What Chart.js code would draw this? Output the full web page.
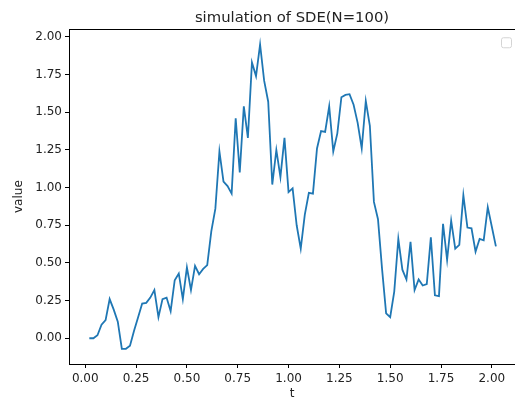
<!DOCTYPE html>
<html>
<head>
<meta charset="utf-8">
<script src="https://cdn.jsdelivr.net/npm/chart.js@4.4.1/dist/chart.umd.min.js"></script>
<style>
  html, body { margin: 0; padding: 0; background: #fff; overflow: hidden; }
</style>
</head>
<body>
<canvas id="sdeChart" width="515" height="401"></canvas>
<script>
/* Simulated path of the SDE, one value per step (N = 100, dt = 0.02) */
const pathValues = [
    0.00, 0.00, 0.02, 0.09, 0.12, 0.26, 0.19, 0.11, -0.07, -0.07,
    -0.05, 0.05, 0.14, 0.23, 0.235, 0.27, 0.32, 0.14, 0.26, 0.27,
    0.18, 0.385, 0.43, 0.26, 0.47, 0.32, 0.48, 0.425, 0.46, 0.485,
    0.71, 0.86, 1.24, 1.04, 1.01, 0.96, 1.46, 1.10, 1.54, 1.33,
    1.83, 1.74, 1.95, 1.71, 1.57, 1.02, 1.25, 1.07, 1.33, 0.97,
    0.995, 0.75, 0.595, 0.82, 0.965, 0.96, 1.26, 1.375, 1.37, 1.54,
    1.24, 1.36, 1.60, 1.615, 1.62, 1.55, 1.43, 1.26, 1.575, 1.41,
    0.905, 0.79, 0.46, 0.165, 0.14, 0.31, 0.66, 0.455, 0.39, 0.64,
    0.32, 0.39, 0.35, 0.36, 0.67, 0.285, 0.28, 0.76, 0.52, 0.78,
    0.595, 0.62, 0.95, 0.735, 0.73, 0.575, 0.66, 0.65, 0.87, 0.74,
    0.61
];
const dt = 0.02;
const times = pathValues.map((_, i) => +((i + 1) * dt).toFixed(2));

const xTicks = [0, 0.25, 0.5, 0.75, 1.0, 1.25, 1.5, 1.75, 2.0];
const yTicks = [0, 0.25, 0.5, 0.75, 1.0, 1.25, 1.5, 1.75, 2.0];

const textColor = '#222';
const font = { family: '"DejaVu Sans", sans-serif', size: 12 };

// top spine + empty legend frame (matplotlib style)
const axesFrame = {
    id: 'axesFrame',
    afterDraw(chart) {
        const { ctx, chartArea: a } = chart;
        ctx.save();
        ctx.strokeStyle = '#000';
        ctx.lineWidth = 1;
        ctx.beginPath();
        ctx.moveTo(a.left, Math.round(a.top) + 0.5);
        ctx.lineTo(a.right, Math.round(a.top) + 0.5);
        ctx.stroke();

        ctx.strokeStyle = '#d4d4d4';
        ctx.beginPath();
        ctx.roundRect(a.right - 13.5, a.top + 8.5, 10, 10, 2);
        ctx.stroke();
        ctx.restore();
    }
};

new Chart(document.getElementById('sdeChart').getContext('2d'), {
    type: 'line',
    data: {
        datasets: [{
            data: times.map((t, i) => ({ x: t, y: pathValues[i] })),
            borderColor: '#1f77b4',
            borderWidth: 1.8,
            pointRadius: 0,
            tension: 0,
            fill: false
        }]
    },
    options: {
        responsive: false,
        animation: false,
        layout: { padding: 0 },
        plugins: {
            legend: { display: false },
            tooltip: { enabled: false },
            title: {
                display: true,
                fullSize: false,
                text: 'simulation of SDE(N=100)',
                color: textColor,
                font: { family: font.family, size: 14.8, weight: 'normal' },
                padding: { top: 9, bottom: 2.5 }
            }
        },
        scales: {
            x: {
                type: 'linear',
                min: -0.08,
                max: 2.114,
                afterBuildTicks: s => { s.ticks = xTicks.map(v => ({ value: v })); },
                afterFit: s => { s.height = 37; },
                grid: { drawOnChartArea: false, drawTicks: true, tickLength: 4, color: '#000' },
                border: { display: true, color: '#000', width: 1 },
                ticks: { color: textColor, font, padding: 4, maxRotation: 0,
                         callback: v => v.toFixed(2) },
                title: { display: true, text: 't', color: textColor, font,
                         padding: { top: 0, bottom: 0 } }
            },
            y: {
                type: 'linear',
                min: -0.171,
                max: 2.051,
                afterBuildTicks: s => { s.ticks = yTicks.map(v => ({ value: v })); },
                afterFit: s => { s.width = 69; },
                grid: { drawOnChartArea: false, drawTicks: true, tickLength: 4, color: '#000' },
                border: { display: true, color: '#000', width: 1 },
                ticks: { color: textColor, font, padding: 3,
                         callback: v => v.toFixed(2) },
                title: { display: true, text: 'value', color: textColor, font,
                         padding: { top: 12, bottom: 0 } }
            }
        }
    },
    plugins: [axesFrame]
});
</script>
</body>
</html>
